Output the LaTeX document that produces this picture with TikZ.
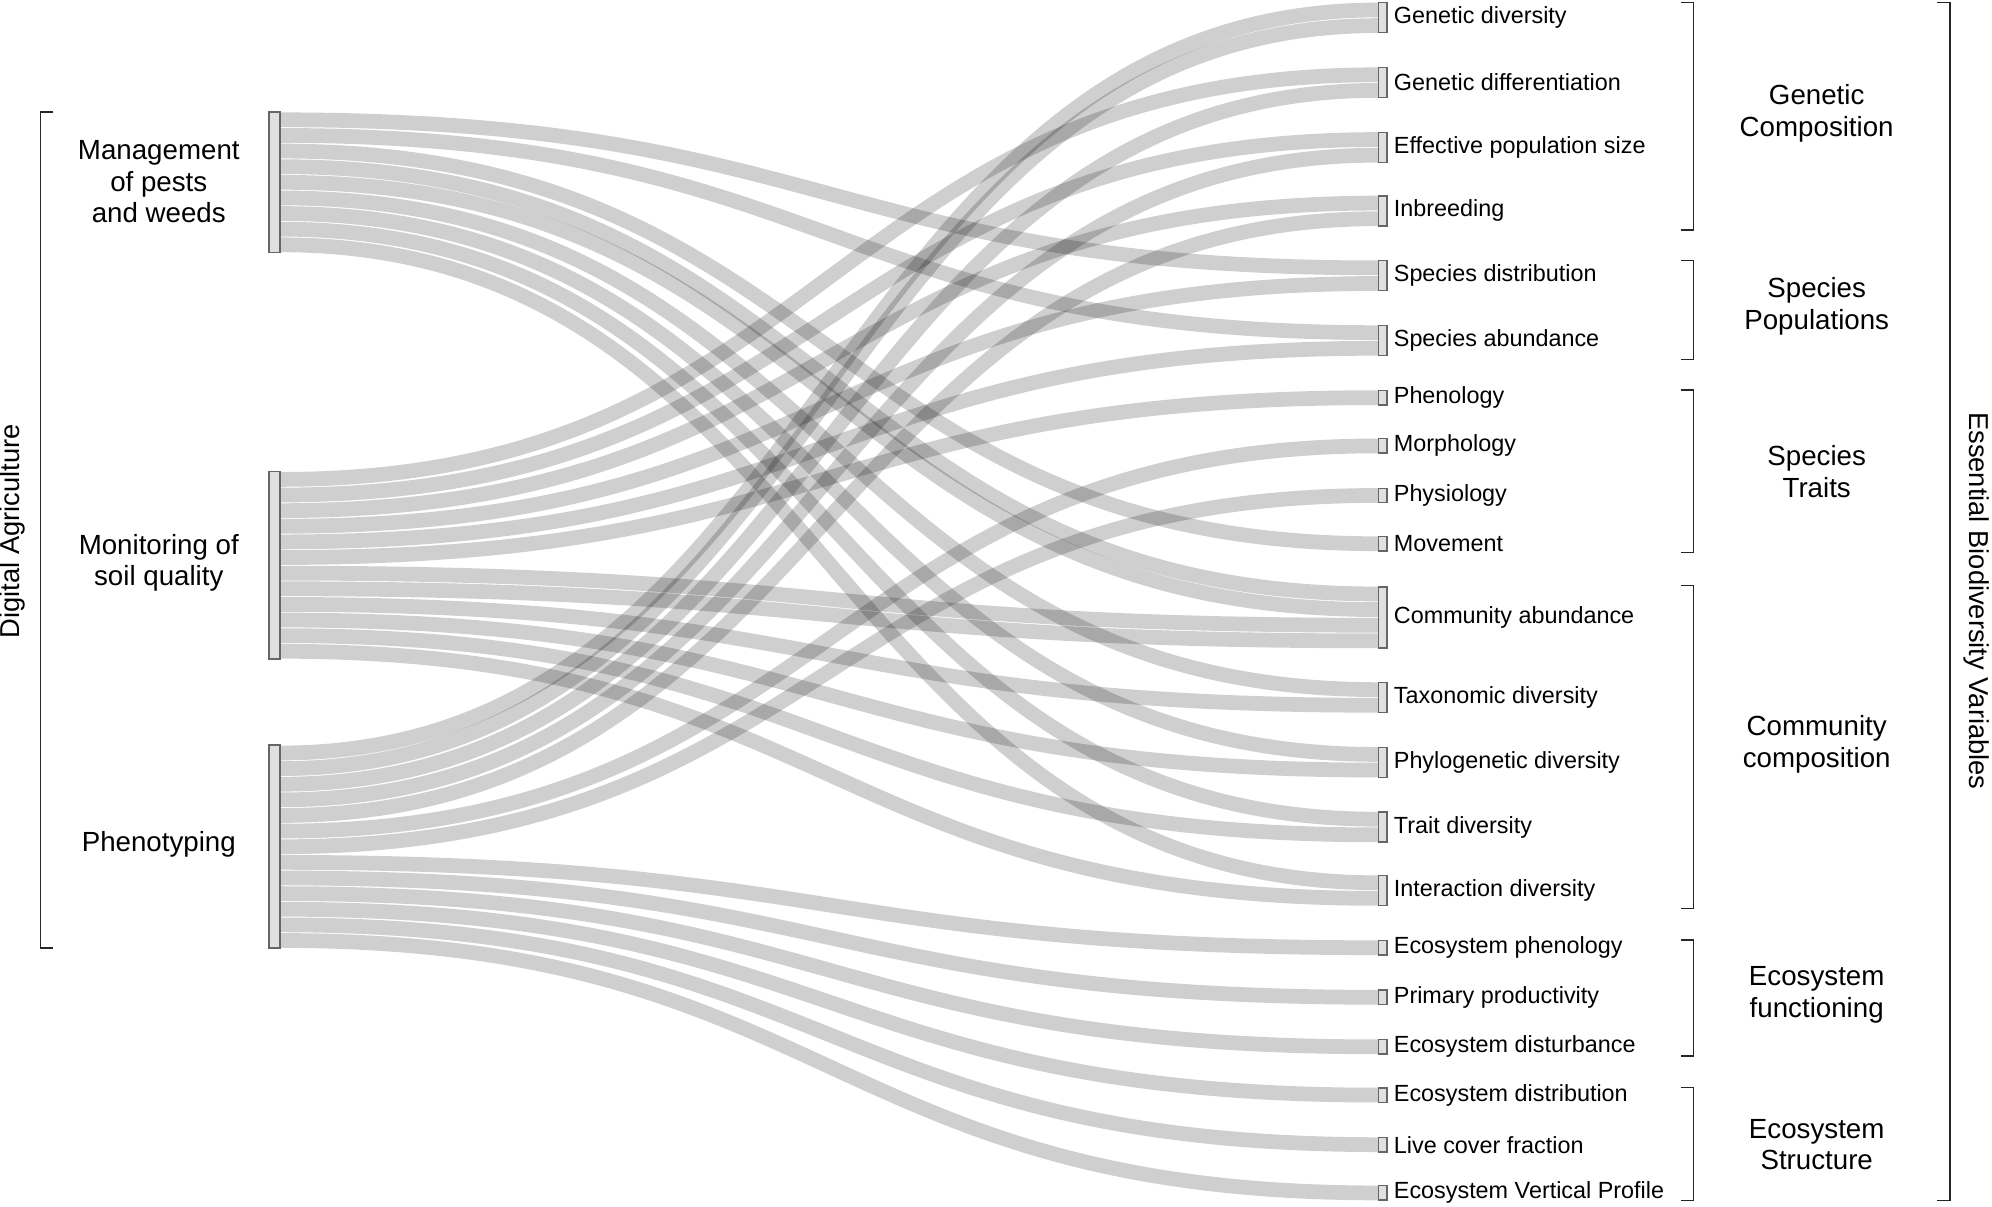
\documentclass[tikz,border=0pt]{standalone}
\usepackage{fontspec}
\setmainfont{Liberation Sans}
\begin{document}
\begin{tikzpicture}[x=1pt,y=-1pt,
  band/.style={draw=black,draw opacity=0.19,line width=11.6pt},
  lbox/.style={draw=black!60,fill=black!12,line width=1.3pt,inner sep=0,minimum width=9pt},
  rbox/.style={draw=black!60,fill=black!12,line width=1.1pt,inner sep=0,minimum width=6.5pt},
  rlab/.style={anchor=west,font=\fontsize{18.4}{20}\selectfont,inner sep=0},
  glab/.style={align=center,font=\fontsize{21.8}{25}\selectfont},
  brk/.style={line width=1.3pt,black!85}]
\useasboundingbox (0,0) rectangle (1568,950);
\def\fl#1#2{\draw[band] (221,#1) .. controls (653,#1) and (653,#2) .. (1085,#2);}
% management
\fl{94.3}{210.85}\fl{106.6}{261.85}\fl{118.9}{428}\fl{131.2}{467.55}\fl{143.5}{479.85}
\fl{155.8}{542.85}\fl{168.1}{593.85}\fl{180.4}{644.85}\fl{192.7}{694.85}
% monitoring
\fl{377.35}{58.85}\fl{389.65}{109.85}\fl{401.95}{159.85}\fl{414.25}{223.15}\fl{426.55}{274.15}
\fl{438.85}{313}\fl{451.15}{492.15}\fl{463.45}{504.45}\fl{475.75}{555.15}\fl{488.05}{606.15}
\fl{500.35}{657.15}\fl{512.65}{707.15}
% phenotyping
\fl{592.7}{7.85}\fl{605}{20.15}\fl{617.3}{71.15}\fl{629.6}{122.15}\fl{641.9}{172.15}
\fl{654.2}{351}\fl{666.5}{390}\fl{678.8}{746}\fl{691.1}{785}\fl{703.4}{824}\fl{715.7}{862}
\fl{728}{901}\fl{740.3}{939}
% left nodes
\node[lbox,minimum height=110.7pt] (m) at (216,143.5) {};
\node[lbox,minimum height=147.6pt] (s) at (216,445) {};
\node[lbox,minimum height=159.9pt] (p) at (216,666.5) {};
\node[glab] (ml) at (125,143) {Management\\of pests\\and weeds};
\node[glab] (sl) at (125,443) {Monitoring of\\soil quality};
\node[glab] (pl) at (125,665) {Phenotyping};
% right nodes
\foreach \c/\h/\t [count=\i] in {14/2/Genetic diversity,65/2/Genetic differentiation,116/2/Effective population size,166/2/Inbreeding,217/2/Species distribution,268/2/Species abundance,313/1/Phenology,351/1/Morphology,390/1/Physiology,428/1/Movement,486/4/Community abundance,549/2/Taxonomic diversity,600/2/Phylogenetic diversity,651/2/Trait diversity,701/2/Interaction diversity,746/1/Ecosystem phenology,785/1/Primary productivity,824/1/Ecosystem disturbance,862/1/Ecosystem distribution,901/1/Live cover fraction,939/1/Ecosystem Vertical Profile}{
  \node[rbox,minimum height=\h*12.3pt-1pt] (r\i) at (1088.5,\c) {};
  \node[rlab] (t\i) at (1097,\c) {\t};
}
% left bracket
\draw[brk] (42,88) -- (32,88) -- (32,746) -- (42,746);
\node[rotate=90,font=\fontsize{21.5}{24}\selectfont] (da) at (10,418) {Digital Agriculture};
% right brackets
\foreach \a/\b in {2/181,205/283,307/435,461/715,740/831,856/945}
  \draw[brk] (1323,\a) -- (1333,\a) -- (1333,\b) -- (1323,\b);
\draw[brk] (1525,2) -- (1535,2) -- (1535,945) -- (1525,945);
\node[rotate=-90,font=\fontsize{21.5}{24}\selectfont] (ebv) at (1556,473) {Essential Biodiversity Variables};
\node[glab] (g1) at (1430,89) {Genetic\\Composition};
\node[glab] (g2) at (1430,241) {Species\\Populations};
\node[glab] (g3) at (1430,371) {Species\\Traits};
\node[glab] (g4) at (1430,586) {Community\\composition};
\node[glab] (g5) at (1430,783) {Ecosystem\\functioning};
\node[glab] (g6) at (1430,901) {Ecosystem\\Structure};
\end{tikzpicture}
\end{document}
